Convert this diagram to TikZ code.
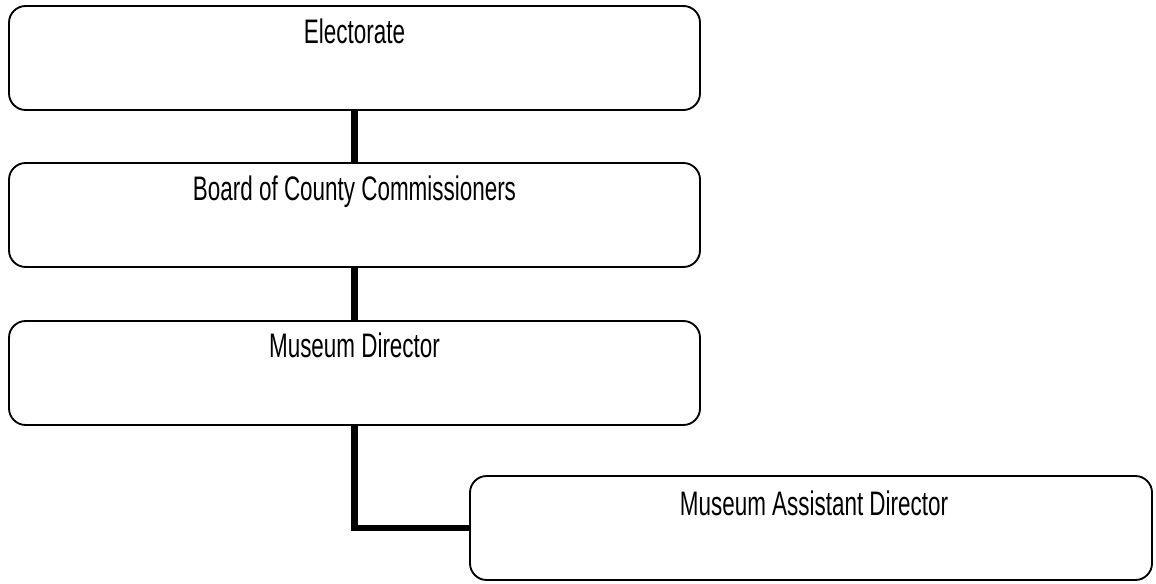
\documentclass[tikz,border=0pt]{standalone}
\usepackage{fontspec}
\setmainfont{Liberation Sans}[FakeStretch=0.66]
\begin{document}
\begin{tikzpicture}[x=0.75pt,y=-0.75pt,
  box/.style={draw=black, line width=1.4pt, rounded corners=12.5pt, fill=white,
    minimum width=#1*0.75pt, minimum height=78pt, inner sep=0pt},
  box/.default=691,
  lbl/.style={anchor=base, inner sep=0pt, font=\fontsize{25.5}{30}\selectfont},
  link/.style={line width=4.6pt, line join=miter, line cap=butt}]
\useasboundingbox (0,0) rectangle (1156,584);
% the four posts
\node[box] (elect) at (354.5,58) {};
\node[box] (board) at (354.5,215) {};
\node[box] (dir)   at (354.5,373) {};
\node[box=682] (asst) at (811,528) {};
% titles, set near the top of each box
\node[lbl] (electT) at ([yshift=-38*0.75pt]elect.north) {Electorate};
\node[lbl] (boardT) at ([yshift=-38*0.75pt]board.north) {Board of County Commissioners};
\node[lbl] (dirT)   at ([yshift=-37*0.75pt]dir.north) {Museum Director};
\node[lbl] (asstT)  at ([xshift=3*0.75pt,yshift=-40*0.75pt]asst.north) {Museum Assistant Director};
% reporting lines
\draw[link] (elect.south) -- (board.north);
\draw[link] (board.south) -- (dir.north);
\draw[link] (dir.south) |- (asst.west);
\end{tikzpicture}
\end{document}
